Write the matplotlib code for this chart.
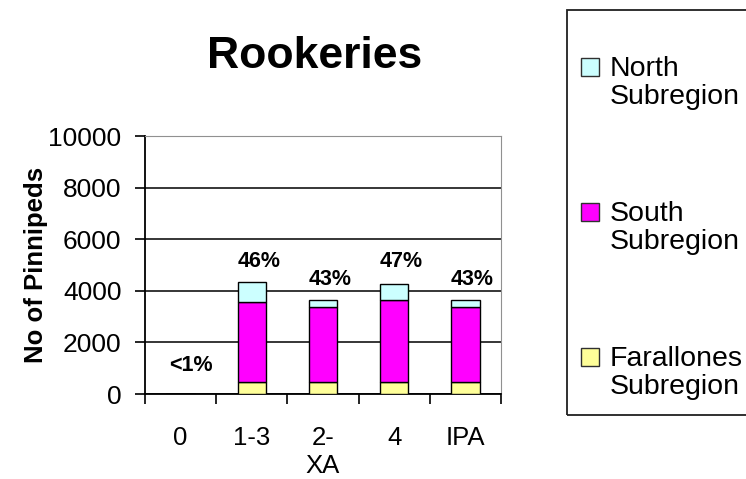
import matplotlib
matplotlib.use("Agg")
import matplotlib.pyplot as plt
from matplotlib.patches import Rectangle

plt.rcParams.update({"font.family": ["Liberation Sans", "DejaVu Sans"]})

# data
categories = ["0", "1-3", "2-\nXA", "4", "IPA"]
farallones = [0, 480, 480, 480, 480]
south = [0, 3100, 2880, 3160, 2880]
north = [0, 760, 280, 630, 280]
pct_labels = ["<1%", "46%", "43%", "47%", "43%"]
pct_y = [1100, 5150, 4450, 5150, 4450]

C_NORTH = "#ccffff"
C_SOUTH = "#ff00ff"
C_FAR = "#ffff99"
W, H = 746, 479


def px(x, y):
    return x / W, 1 - y / H


fig = plt.figure(figsize=(W / 100, H / 100), dpi=100)
ax = fig.add_axes([145 / W, 1 - 394 / H, (501 - 145) / W, (394 - 136) / H])

x = range(len(categories))
bw = 0.4
ax.bar(x, farallones, bw, color=C_FAR, edgecolor="black", lw=1.0, zorder=3)
ax.bar(x, south, bw, bottom=farallones, color=C_SOUTH, edgecolor="black", lw=1.0, zorder=3)
tops = [f + s for f, s in zip(farallones, south)]
ax.bar(x, north, bw, bottom=tops, color=C_NORTH, edgecolor="black", lw=1.0, zorder=3)

for i, (lab, yy) in enumerate(zip(pct_labels, pct_y)):
    ax.text(i + 0.1 + (0.05 if i == 0 else 0), yy, lab, ha="center", va="center",
            fontsize=15.5, fontweight="bold", zorder=4)

ax.set_xlim(-0.5, len(categories) - 0.5)
ax.set_ylim(0, 10000)
ax.set_yticks(range(0, 10001, 2000))
ax.set_xticks([i - 0.5 for i in range(len(categories) + 1)], minor=False)
ax.set_xticklabels([])
ax.set_xticks(list(x), minor=True)
ax.set_xticklabels(categories, minor=True, fontsize=18.5, linespacing=1.2)
ax.tick_params(axis="x", which="minor", length=0, pad=23)
ax.tick_params(axis="x", which="major", length=7, width=1.2, direction="out")
ax.tick_params(axis="y", length=7, width=1.2, direction="out", labelsize=19, pad=10)
for lab in ax.get_xticklabels(minor=True):
    lab.set_verticalalignment("top")

ax.grid(axis="y", color="black", lw=1.1, zorder=1)
ax.spines["left"].set_linewidth(1.3)
ax.spines["bottom"].set_linewidth(1.3)
ax.spines["top"].set_color("#909090")
ax.spines["right"].set_color("#909090")
ax.set_ylabel("No of Pinnipeds", fontsize=18.5, fontweight="bold", labelpad=0)

fig.text(*px(315, 57), "Rookeries", ha="center", va="center", fontsize=32,
         fontweight="bold")

# legend box drawn by hand to match the reference layout
x0, y0 = px(567, 415)
x1, y1 = px(760, 10)
fig.patches.append(Rectangle((x0, y0), x1 - x0, y1 - y0, transform=fig.transFigure,
                             fill=False, edgecolor="#202020", lw=1.3))
leg_items = [("North\nSubregion", C_NORTH, 56),
             ("South\nSubregion", C_SOUTH, 201),
             ("Farallones\nSubregion", C_FAR, 346)]
for text, color, ytop in leg_items:
    sx, sy = px(581, ytop + 20)
    fig.patches.append(Rectangle((sx, sy), 18 / W, 18 / H, transform=fig.transFigure,
                                 facecolor=color, edgecolor="#303030", lw=1.0))
    tx, ty = px(610, ytop)
    fig.text(tx, ty, text, ha="left", va="top", fontsize=20.5, linespacing=1.08)

fig.savefig("out.png", dpi=100)
